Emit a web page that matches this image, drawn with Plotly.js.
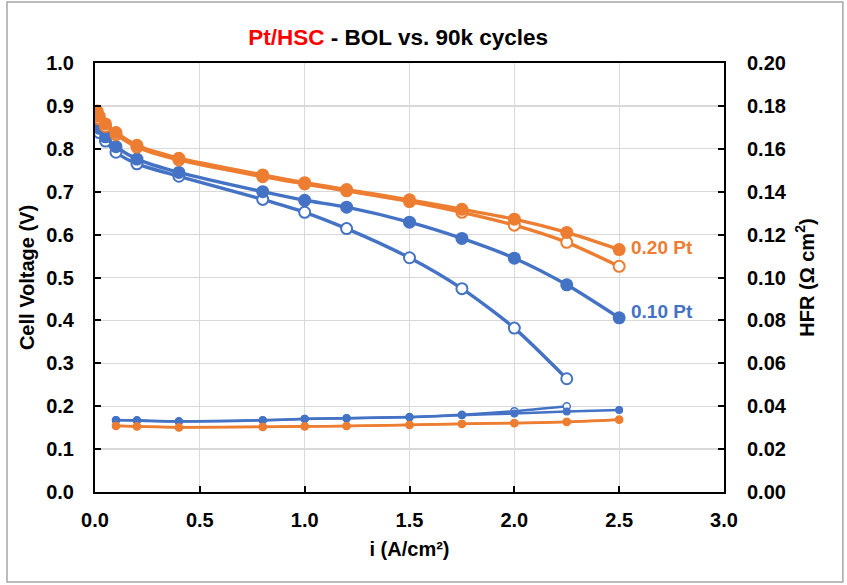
<!DOCTYPE html>
<html>
<head>
<meta charset="utf-8">
<script src="https://cdn.plot.ly/plotly-3.0.1.min.js"></script>
<style>html,body{margin:0;padding:0;background:#fff;}#chart{width:847px;height:585px;}</style>
</head>
<body>
<div id="chart"></div>
<script>
// Polarization data (cell voltage, V) vs current density (A/cm2)
var currentPol = [0.01, 0.02, 0.05, 0.1, 0.2, 0.4, 0.8, 1.0, 1.2, 1.5, 1.75, 2.0, 2.25, 2.5];
var currentPol90kLow = [0.01, 0.02, 0.05, 0.1, 0.2, 0.4, 0.8, 1.0, 1.2, 1.5, 1.75, 2.0, 2.25];
var v020BOL = [0.888, 0.876, 0.858, 0.838, 0.808, 0.778, 0.739, 0.721, 0.705, 0.681, 0.659, 0.636, 0.605, 0.565];
var v020_90k = [0.882, 0.870, 0.852, 0.833, 0.804, 0.774, 0.735, 0.718, 0.702, 0.677, 0.652, 0.622, 0.582, 0.526];
var v010BOL = [0.862, 0.848, 0.828, 0.805, 0.776, 0.745, 0.700, 0.680, 0.664, 0.629, 0.591, 0.545, 0.483, 0.406];
var v010_90k = [0.852, 0.838, 0.818, 0.792, 0.765, 0.736, 0.682, 0.652, 0.614, 0.546, 0.474, 0.382, 0.264];

// HFR data (ohm cm2)
var currentHFR = [0.1, 0.2, 0.4, 0.8, 1.0, 1.2, 1.5, 1.75, 2.0, 2.25, 2.5];
var currentHFR90kLow = [0.1, 0.2, 0.4, 0.8, 1.0, 1.2, 1.5, 1.75, 2.0, 2.25];
var hfr010BOL = [0.0336, 0.0333, 0.0329, 0.0334, 0.0341, 0.0344, 0.0349, 0.0358, 0.0366, 0.0375, 0.0382];
var hfr010_90k = [0.0335, 0.0334, 0.0330, 0.0335, 0.0340, 0.0344, 0.0350, 0.0360, 0.0377, 0.0400];
var hfr020BOL = [0.0309, 0.0306, 0.0302, 0.0304, 0.0306, 0.0308, 0.0313, 0.0318, 0.0322, 0.0327, 0.0338];
var hfr020_90k = [0.0308, 0.0305, 0.0301, 0.0303, 0.0305, 0.0308, 0.0312, 0.0317, 0.0321, 0.0326, 0.0337];

var BLUE = '#4472C4', ORANGE = '#ED7D31';
var FONT = 'Liberation Sans, Arial, sans-serif';

function polTrace(x, y, color, open, name) {
  return {
    x: x, y: y, type: 'scatter', mode: 'lines+markers', name: name,
    line: {color: color, width: 3.4, shape: 'spline', smoothing: 0.7},
    marker: open ? {symbol: 'circle', size: 11, color: '#ffffff', line: {color: color, width: 2}}
                 : {symbol: 'circle', size: 13, color: color, line: {width: 0}},
    xaxis: 'x', yaxis: 'y', hoverinfo: 'x+y'
  };
}
function hfrTrace(x, y, color, open, name) {
  return {
    x: x, y: y, type: 'scatter', mode: 'lines+markers', name: name,
    line: {color: color, width: 2.5, shape: 'spline', smoothing: 0.7},
    marker: open ? {symbol: 'circle', size: 7, color: '#ffffff', line: {color: color, width: 1.5}}
                 : {symbol: 'circle', size: 8, color: color, line: {width: 0}},
    xaxis: 'x', yaxis: 'y2', hoverinfo: 'x+y'
  };
}

var data = [
  hfrTrace(currentHFR90kLow, hfr010_90k, BLUE, true, '0.10 Pt HFR 90k'),
  hfrTrace(currentHFR, hfr010BOL, BLUE, false, '0.10 Pt HFR BOL'),
  hfrTrace(currentHFR, hfr020_90k, ORANGE, true, '0.20 Pt HFR 90k'),
  hfrTrace(currentHFR, hfr020BOL, ORANGE, false, '0.20 Pt HFR BOL'),
  polTrace(currentPol90kLow, v010_90k, BLUE, true, '0.10 Pt 90k'),
  polTrace(currentPol, v010BOL, BLUE, false, '0.10 Pt BOL'),
  polTrace(currentPol, v020_90k, ORANGE, true, '0.20 Pt 90k'),
  polTrace(currentPol, v020BOL, ORANGE, false, '0.20 Pt BOL')
];

var tickFont = {family: FONT, size: 20, color: '#000', weight: 'bold'};
var titleFont = {family: FONT, size: 20, color: '#000', weight: 'bold'};

var layout = {
  width: 847, height: 585,
  margin: {l: 95, r: 123, t: 63, b: 93, pad: 0},
  paper_bgcolor: '#ffffff', plot_bgcolor: '#ffffff',
  showlegend: false,
  title: {
    text: '<span style="color:#FF0000">Pt/HSC</span> - BOL vs. 90k cycles',
    font: {family: FONT, size: 22.5, color: '#000', weight: 'bold'},
    x: 0.482, xanchor: 'center', y: 0.937, yanchor: 'middle', xref: 'paper', yref: 'container'
  },
  xaxis: {
    range: [0, 3], dtick: 0.5, tick0: 0, tickformat: '.1f',
    showgrid: true, gridcolor: '#D9D9D9', gridwidth: 1.3,
    showline: true, linecolor: '#000', linewidth: 2, mirror: true,
    ticks: 'inside', ticklen: 6, tickwidth: 2, tickcolor: '#000',
    tickfont: tickFont, ticklabelstandoff: 9, zeroline: false,
    title: {text: 'i (A/cm²)', font: titleFont, standoff: 12},
    automargin: false
  },
  yaxis: {
    range: [0, 1], dtick: 0.1, tick0: 0, tickformat: '.1f',
    showgrid: true, gridcolor: '#D9D9D9', gridwidth: 1.3,
    showline: true, linecolor: '#000', linewidth: 2, mirror: false,
    ticks: 'inside', ticklen: 6, tickwidth: 2, tickcolor: '#000',
    tickfont: tickFont, ticklabelstandoff: 15, zeroline: false,
    title: {text: 'Cell Voltage (V)', font: titleFont, standoff: 6},
    automargin: false
  },
  yaxis2: {
    range: [0, 0.2], dtick: 0.02, tick0: 0, tickformat: '.2f',
    overlaying: 'y', side: 'right', showgrid: false,
    showline: true, linecolor: '#000', linewidth: 2,
    ticks: 'inside', ticklen: 6, tickwidth: 2, tickcolor: '#000',
    tickfont: tickFont, ticklabelstandoff: 17, zeroline: false,
    title: {text: 'HFR (Ω cm<sup>2</sup>)', font: titleFont, standoff: 14},
    automargin: false
  },
  annotations: [
    {x: 2.5, y: 0.57, xref: 'x', yref: 'y', text: '0.20 Pt', showarrow: false,
     xanchor: 'left', yanchor: 'middle', xshift: 10,
     font: {family: FONT, size: 19, color: ORANGE, weight: 'bold'}},
    {x: 2.5, y: 0.42, xref: 'x', yref: 'y', text: '0.10 Pt', showarrow: false,
     xanchor: 'left', yanchor: 'middle', xshift: 10,
     font: {family: FONT, size: 19, color: BLUE, weight: 'bold'}}
  ],
  shapes: [
    {type: 'rect', xref: 'paper', yref: 'paper', x0: -0.1399, x1: 1.189, y0: -0.2098, y1: 1.142,
     line: {color: '#A6A6A6', width: 1.5}, fillcolor: 'rgba(0,0,0,0)', layer: 'below'}
  ]
};

Plotly.newPlot('chart', data, layout, {staticPlot: true, displayModeBar: false});
</script>
</body>
</html>
